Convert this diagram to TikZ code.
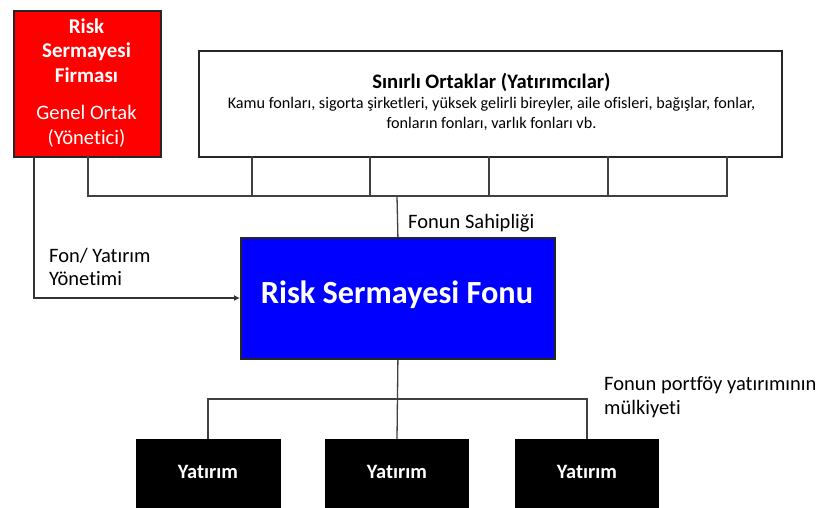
\documentclass[tikz,border=0pt]{standalone}
\usepackage{fontspec}
\setmainfont{Carlito}[Ligatures=NoCommon]
\usetikzlibrary{arrows.meta}
\begin{document}
\begin{tikzpicture}[x=1pt,y=-1pt,
  conn/.style={draw=black!75, line width=1.3pt},
  boxframe/.style={draw=black!85, line width=1.8pt},
  lbl/.style={anchor=base west, inner sep=0pt, font=\fontsize{20.5}{24}\selectfont},
  redb/.style={anchor=base, inner sep=0pt, text=white, font=\fontsize{21}{24}\selectfont\bfseries},
  redr/.style={anchor=base, inner sep=0pt, text=white, font=\fontsize{20.6}{24}\selectfont},
  body/.style={anchor=base, inner sep=0pt, font=\fontsize{16.2}{20}\selectfont},
  ytxt/.style={anchor=base, inner sep=0pt, text=white, font=\fontsize{20.4}{24}\selectfont\bfseries},
  ybox/.style={fill=black, draw=black, line width=1pt, minimum width=143pt, minimum height=90pt, anchor=north west, inner sep=0pt}]
\clip (0,0) rectangle (821,507);
\fill[white] (0,0) rectangle (821,507);
% boxes
\node[boxframe, fill=red, minimum width=147pt, minimum height=146pt, anchor=north west, inner sep=0pt] (vc) at (13,10) {};
\node[redb] (vc1) at (86.5,33) {Risk};
\node[redb] (vc2) at (86.5,57.5) {Sermayesi};
\node[redb] (vc3) at (86.5,82) {Firması};
\node[redr] (vc4) at (86.5,119) {Genel Ortak};
\node[redr] (vc5) at (86.5,144) {(Yönetici)};
\node[boxframe, fill=white, minimum width=583pt, minimum height=106pt, anchor=north west, inner sep=0pt] (lp) at (198,50) {};
\node[anchor=base, inner sep=0pt, font=\fontsize{20.6}{24}\selectfont\bfseries] (lpt) at (491.5,88) {Sınırlı Ortaklar (Yatırımcılar)};
\node[body] (lpb1) at (491.5,108) {Kamu fonları, sigorta şirketleri, yüksek gelirli bireyler, aile ofisleri, bağışlar, fonlar,};
\node[body] (lpb2) at (491.5,128) {fonların fonları, varlık fonları vb.};
\node[boxframe, fill=blue, minimum width=314pt, minimum height=121pt, anchor=north west, inner sep=0pt] (fund) at (240,237) {};
\node[anchor=base, inner sep=0pt, text=white, font=\fontsize{32.3}{36}\selectfont\bfseries] (fundt) at (397,303) {Risk Sermayesi Fonu};
\node[ybox, minimum width=144pt] (y1) at (136,439) {};
\node[ybox] (y2) at (325,439) {};
\node[ybox] (y3) at (515,439) {};
\node[ytxt] (y1t) at (208,478) {Yatırım};
\node[ytxt] (y2t) at (397,478) {Yatırım};
\node[ytxt] (y3t) at (587,478) {Yatırım};
% coordinates
\coordinate (bus) at (397,196);
% ownership bus
\draw[conn] (88,156) -- (88,196) -- (727,196) -- (727,156);
\foreach \xx in {252,370,489,608} \draw[conn] (\xx,156) -- (\xx,196);
\draw[conn] (bus) -- (fund.north);
% management arrow
\draw[conn, -{Latex[length=6pt,width=6pt]}, draw=black!80] (34,156) -- (34,298) -- (fund.west |- 0,298);
% portfolio bus
\draw[conn] (fund.south) -- (y2.north);
\draw[conn] (208,439) -- (208,399) -- (587,399) -- (587,439);
% labels
\node[lbl] (l1) at (408,228) {Fonun Sahipliği};
\node[lbl] (l2a) at (49,262) {Fon/ Yatırım};
\node[lbl] (l2b) at (49,285) {Yönetimi};
\node[lbl] (l3a) at (604,390) {Fonun portföy yatırımının};
\node[lbl] (l3b) at (604,414) {mülkiyeti};
\end{tikzpicture}
\end{document}
